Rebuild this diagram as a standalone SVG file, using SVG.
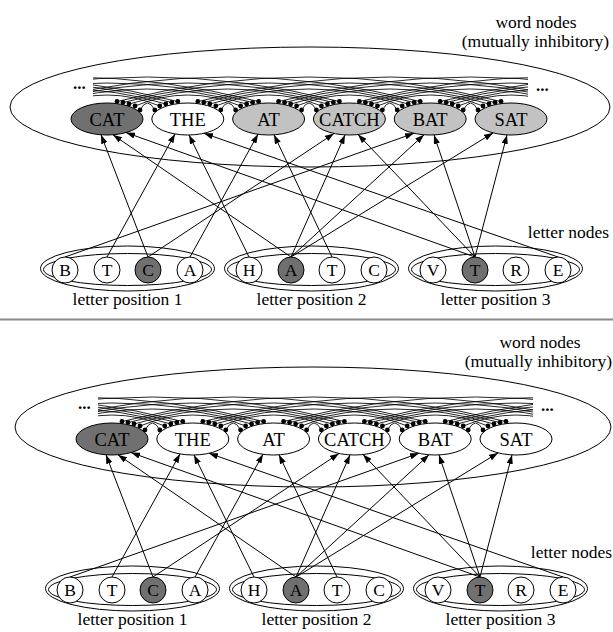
<svg xmlns="http://www.w3.org/2000/svg" xmlns:xlink="http://www.w3.org/1999/xlink" width="613" height="632" viewBox="0 0 613 632" font-family="'Liberation Serif', 'Times New Roman', serif">
<style>
text { font-family: "Liberation Serif", "Times New Roman", serif; fill:#000; }
.lbl { font-size:17.5px; }
.wt { font-size:18.5px; text-anchor:middle; }
.lt { font-size:17.5px; text-anchor:middle; }
.dots { font-size:17px; font-weight:bold; }
.node { stroke:#000; stroke-width:1; }
.dark { fill:#707070; }
.light { fill:#c2c2c2; }
.white { fill:#fff; }
.grp { fill:none; stroke:#000; stroke-width:1; }
.big { fill:none; stroke:#000; stroke-width:1; }
</style>
<defs>
<marker id="ah" viewBox="0 0 10 7" refX="10" refY="3.5" markerWidth="9" markerHeight="6.3" markerUnits="userSpaceOnUse" orient="auto">
<path d="M0,0 L10,3.5 L0,7 z" fill="#000" stroke="none"/>
</marker>
<clipPath id="clipInh" clipPathUnits="userSpaceOnUse"><rect x="93" y="60" width="435" height="60"/></clipPath>
<g id="inhib">
<g fill="none" stroke="#000" stroke-width="0.85" clip-path="url(#clipInh)">
<path d="M140 110 Q147.4 96 154.8 110"/>
<path d="M220.8 110 Q228.2 96 235.6 110"/>
<path d="M301.6 110 Q309 96 316.4 110"/>
<path d="M382.4 110 Q389.8 96 397.2 110"/>
<path d="M463.2 110 Q470.6 96 478 110"/>
<path d="M135 106 Q187.8 84 240.6 106"/>
<path d="M215.8 106 Q268.6 84 321.4 106"/>
<path d="M296.6 106 Q349.4 84 402.2 106"/>
<path d="M377.4 106 Q430.2 84 483 106"/>
<path d="M54.2 106 Q107 84 159.8 106"/>
<path d="M458.2 106 Q511 84 563.8 106"/>
<path d="M129 104 Q228.2 74 327.4 104"/>
<path d="M209.8 104 Q309 74 408.2 104"/>
<path d="M290.6 104 Q389.8 74 489 104"/>
<path d="M-32.6 104 Q66.6 74 165.8 104"/>
<path d="M48.2 104 Q147.4 74 246.6 104"/>
<path d="M371.4 104 Q470.6 74 569.8 104"/>
<path d="M452.2 104 Q551.4 74 650.6 104"/>
<path d="M123 102.5 Q268.6 63.5 414.2 102.5"/>
<path d="M203.8 102.5 Q349.4 63.5 495 102.5"/>
<path d="M-119.4 102.5 Q26.2 63.5 171.8 102.5"/>
<path d="M-38.6 102.5 Q107 63.5 252.6 102.5"/>
<path d="M42.2 102.5 Q187.8 63.5 333.4 102.5"/>
<path d="M284.6 102.5 Q430.2 63.5 575.8 102.5"/>
<path d="M365.4 102.5 Q511 63.5 656.6 102.5"/>
<path d="M446.2 102.5 Q591.8 63.5 737.4 102.5"/>
<path d="M117 101.5 Q309 52.5 501 101.5"/>
<path d="M-206.2 101.5 Q-14.2 52.5 177.8 101.5"/>
<path d="M-125.4 101.5 Q66.6 52.5 258.6 101.5"/>
<path d="M-44.6 101.5 Q147.4 52.5 339.4 101.5"/>
<path d="M36.2 101.5 Q228.2 52.5 420.2 101.5"/>
<path d="M197.8 101.5 Q389.8 52.5 581.8 101.5"/>
<path d="M278.6 101.5 Q470.6 52.5 662.6 101.5"/>
<path d="M359.4 101.5 Q551.4 52.5 743.4 101.5"/>
<path d="M440.2 101.5 Q632.2 52.5 824.2 101.5"/>
</g>
<g fill="#000">
<circle cx="140" cy="110" r="2.4"/><circle cx="135" cy="106" r="2.4"/><circle cx="129" cy="104" r="2.4"/><circle cx="123" cy="102.5" r="2.4"/><circle cx="117" cy="101.5" r="2.4"/>
<circle cx="220.8" cy="110" r="2.4"/><circle cx="215.8" cy="106" r="2.4"/><circle cx="209.8" cy="104" r="2.4"/><circle cx="203.8" cy="102.5" r="2.4"/><circle cx="197.8" cy="101.5" r="2.4"/>
<circle cx="301.6" cy="110" r="2.4"/><circle cx="296.6" cy="106" r="2.4"/><circle cx="290.6" cy="104" r="2.4"/><circle cx="284.6" cy="102.5" r="2.4"/><circle cx="278.6" cy="101.5" r="2.4"/>
<circle cx="382.4" cy="110" r="2.4"/><circle cx="377.4" cy="106" r="2.4"/><circle cx="371.4" cy="104" r="2.4"/><circle cx="365.4" cy="102.5" r="2.4"/><circle cx="359.4" cy="101.5" r="2.4"/>
<circle cx="463.2" cy="110" r="2.4"/><circle cx="458.2" cy="106" r="2.4"/><circle cx="452.2" cy="104" r="2.4"/><circle cx="446.2" cy="102.5" r="2.4"/><circle cx="440.2" cy="101.5" r="2.4"/>
<circle cx="154.8" cy="110" r="2.4"/><circle cx="159.8" cy="106" r="2.4"/><circle cx="165.8" cy="104" r="2.4"/><circle cx="171.8" cy="102.5" r="2.4"/><circle cx="177.8" cy="101.5" r="2.4"/>
<circle cx="235.6" cy="110" r="2.4"/><circle cx="240.6" cy="106" r="2.4"/><circle cx="246.6" cy="104" r="2.4"/><circle cx="252.6" cy="102.5" r="2.4"/><circle cx="258.6" cy="101.5" r="2.4"/>
<circle cx="316.4" cy="110" r="2.4"/><circle cx="321.4" cy="106" r="2.4"/><circle cx="327.4" cy="104" r="2.4"/><circle cx="333.4" cy="102.5" r="2.4"/><circle cx="339.4" cy="101.5" r="2.4"/>
<circle cx="397.2" cy="110" r="2.4"/><circle cx="402.2" cy="106" r="2.4"/><circle cx="408.2" cy="104" r="2.4"/><circle cx="414.2" cy="102.5" r="2.4"/><circle cx="420.2" cy="101.5" r="2.4"/>
<circle cx="478" cy="110" r="2.4"/><circle cx="483" cy="106" r="2.4"/><circle cx="489" cy="104" r="2.4"/><circle cx="495" cy="102.5" r="2.4"/><circle cx="501" cy="101.5" r="2.4"/>
</g>
<text class="dots" x="73" y="89" font-size="17" font-weight="bold">...</text>
<text class="dots" x="536" y="91" font-size="17" font-weight="bold">...</text>
</g>
<g id="arrows" stroke="#000" stroke-width="1" marker-end="url(#ah)">
<line x1="148" y1="257" x2="101" y2="134.8"/>
<line x1="291" y1="257" x2="113" y2="134.8"/>
<line x1="475" y1="257" x2="126" y2="132.6"/>
<line x1="107" y1="257" x2="175" y2="133.9"/>
<line x1="249" y1="257" x2="189" y2="135"/>
<line x1="558" y1="257" x2="204" y2="133.3"/>
<line x1="190" y1="257" x2="258" y2="134.2"/>
<line x1="332" y1="257" x2="274" y2="134.8"/>
<line x1="148" y1="257" x2="334" y2="133.5"/>
<line x1="291" y1="257" x2="345" y2="134.9"/>
<line x1="475" y1="257" x2="358" y2="134.5"/>
<line x1="65" y1="257" x2="414" y2="133.3"/>
<line x1="291" y1="257" x2="424" y2="134.8"/>
<line x1="475" y1="257" x2="434" y2="134.9"/>
<line x1="291" y1="257" x2="493" y2="132.9"/>
<line x1="475" y1="257" x2="507" y2="134.9"/>
</g>
</defs>

<!-- ===== TOP PANEL ===== -->
<g id="top-panel">
<text class="lbl" x="536" y="28" text-anchor="middle">word nodes</text>
<text class="lbl" x="609" y="47" text-anchor="end">(mutually inhibitory)</text>
<ellipse id="top-word-layer" class="big" cx="310" cy="107" rx="300" ry="60"/>
<g id="top-inhibitory-connectors"><use xlink:href="#inhib" href="#inhib"/></g>
<g id="top-word-CAT"><ellipse class="node dark" cx="107" cy="119" rx="36" ry="16"/><text class="wt" x="107" y="125.5">CAT</text></g>
<g id="top-word-THE"><ellipse class="node white" cx="187.8" cy="119" rx="36" ry="16"/><text class="wt" x="187.8" y="125.5">THE</text></g>
<g id="top-word-AT"><ellipse class="node light" cx="268.6" cy="119" rx="36" ry="16"/><text class="wt" x="268.6" y="125.5">AT</text></g>
<g id="top-word-CATCH"><ellipse class="node light" cx="349.4" cy="119" rx="36" ry="16"/><text class="wt" x="349.4" y="125.5">CATCH</text></g>
<g id="top-word-BAT"><ellipse class="node light" cx="430.2" cy="119" rx="36" ry="16"/><text class="wt" x="430.2" y="125.5">BAT</text></g>
<g id="top-word-SAT"><ellipse class="node light" cx="511" cy="119" rx="36" ry="16"/><text class="wt" x="511" y="125.5">SAT</text></g>
<text class="lbl" x="609" y="238" text-anchor="end">letter nodes</text>
<g id="top-pos1"><ellipse class="grp" cx="127.5" cy="268.5" rx="87" ry="22.5"/><ellipse class="grp" cx="127.5" cy="269.5" rx="84" ry="16"/><text class="lbl" x="127.5" y="305" text-anchor="middle">letter position 1</text></g>
<g id="top-pos2"><ellipse class="grp" cx="311.5" cy="268.5" rx="87" ry="22.5"/><ellipse class="grp" cx="311.5" cy="269.5" rx="84" ry="16"/><text class="lbl" x="311.5" y="305" text-anchor="middle">letter position 2</text></g>
<g id="top-pos3"><ellipse class="grp" cx="495.5" cy="268.5" rx="87" ry="22.5"/><ellipse class="grp" cx="495.5" cy="269.5" rx="84" ry="16"/><text class="lbl" x="495.5" y="305" text-anchor="middle">letter position 3</text></g>
<g id="top-connectors"><use xlink:href="#arrows" href="#arrows"/></g>
<g id="top-L1-B"><circle class="node white" cx="65" cy="270" r="13"/><text class="lt" x="65" y="276">B</text></g>
<g id="top-L1-T"><circle class="node white" cx="107" cy="270" r="13"/><text class="lt" x="107" y="276">T</text></g>
<g id="top-L1-C"><circle class="node dark" cx="148" cy="270" r="13"/><text class="lt" x="148" y="276">C</text></g>
<g id="top-L1-A"><circle class="node white" cx="190" cy="270" r="13"/><text class="lt" x="190" y="276">A</text></g>
<g id="top-L2-H"><circle class="node white" cx="249" cy="270" r="13"/><text class="lt" x="249" y="276">H</text></g>
<g id="top-L2-A"><circle class="node dark" cx="291" cy="270" r="13"/><text class="lt" x="291" y="276">A</text></g>
<g id="top-L2-T"><circle class="node white" cx="332" cy="270" r="13"/><text class="lt" x="332" y="276">T</text></g>
<g id="top-L2-C"><circle class="node white" cx="374" cy="270" r="13"/><text class="lt" x="374" y="276">C</text></g>
<g id="top-L3-V"><circle class="node white" cx="433" cy="270" r="13"/><text class="lt" x="433" y="276">V</text></g>
<g id="top-L3-T"><circle class="node dark" cx="475" cy="270" r="13"/><text class="lt" x="475" y="276">T</text></g>
<g id="top-L3-R"><circle class="node white" cx="516" cy="270" r="13"/><text class="lt" x="516" y="276">R</text></g>
<g id="top-L3-E"><circle class="node white" cx="558" cy="270" r="13"/><text class="lt" x="558" y="276">E</text></g>
</g>

<line id="divider" x1="0" y1="319.5" x2="613" y2="319.5" stroke="#8a8a8a" stroke-width="2"/>

<!-- ===== BOTTOM PANEL ===== -->
<g id="bottom-panel">
<text class="lbl" x="540" y="348" text-anchor="middle">word nodes</text>
<text class="lbl" x="612" y="367" text-anchor="end">(mutually inhibitory)</text>
<ellipse id="bot-word-layer" class="big" cx="313" cy="427" rx="298" ry="60"/>
<text class="lbl" x="612" y="558" text-anchor="end">letter nodes</text>
<g transform="translate(5,320)">
<g id="bot-inhibitory-connectors"><use xlink:href="#inhib" href="#inhib"/></g>
<g id="bot-word-CAT"><ellipse class="node dark" cx="107" cy="119" rx="36" ry="16"/><text class="wt" x="107" y="125.5">CAT</text></g>
<g id="bot-word-THE"><ellipse class="node white" cx="187.8" cy="119" rx="36" ry="16"/><text class="wt" x="187.8" y="125.5">THE</text></g>
<g id="bot-word-AT"><ellipse class="node white" cx="268.6" cy="119" rx="36" ry="16"/><text class="wt" x="268.6" y="125.5">AT</text></g>
<g id="bot-word-CATCH"><ellipse class="node white" cx="349.4" cy="119" rx="36" ry="16"/><text class="wt" x="349.4" y="125.5">CATCH</text></g>
<g id="bot-word-BAT"><ellipse class="node white" cx="430.2" cy="119" rx="36" ry="16"/><text class="wt" x="430.2" y="125.5">BAT</text></g>
<g id="bot-word-SAT"><ellipse class="node white" cx="511" cy="119" rx="36" ry="16"/><text class="wt" x="511" y="125.5">SAT</text></g>
<g id="bot-pos1"><ellipse class="grp" cx="127.5" cy="268.5" rx="87" ry="22.5"/><ellipse class="grp" cx="127.5" cy="269.5" rx="84" ry="16"/><text class="lbl" x="127.5" y="305" text-anchor="middle">letter position 1</text></g>
<g id="bot-pos2"><ellipse class="grp" cx="311.5" cy="268.5" rx="87" ry="22.5"/><ellipse class="grp" cx="311.5" cy="269.5" rx="84" ry="16"/><text class="lbl" x="311.5" y="305" text-anchor="middle">letter position 2</text></g>
<g id="bot-pos3"><ellipse class="grp" cx="495.5" cy="268.5" rx="87" ry="22.5"/><ellipse class="grp" cx="495.5" cy="269.5" rx="84" ry="16"/><text class="lbl" x="495.5" y="305" text-anchor="middle">letter position 3</text></g>
<g id="bot-connectors"><use xlink:href="#arrows" href="#arrows"/></g>
<g id="bot-L1-B"><circle class="node white" cx="65" cy="270" r="13"/><text class="lt" x="65" y="276">B</text></g>
<g id="bot-L1-T"><circle class="node white" cx="107" cy="270" r="13"/><text class="lt" x="107" y="276">T</text></g>
<g id="bot-L1-C"><circle class="node dark" cx="148" cy="270" r="13"/><text class="lt" x="148" y="276">C</text></g>
<g id="bot-L1-A"><circle class="node white" cx="190" cy="270" r="13"/><text class="lt" x="190" y="276">A</text></g>
<g id="bot-L2-H"><circle class="node white" cx="249" cy="270" r="13"/><text class="lt" x="249" y="276">H</text></g>
<g id="bot-L2-A"><circle class="node dark" cx="291" cy="270" r="13"/><text class="lt" x="291" y="276">A</text></g>
<g id="bot-L2-T"><circle class="node white" cx="332" cy="270" r="13"/><text class="lt" x="332" y="276">T</text></g>
<g id="bot-L2-C"><circle class="node white" cx="374" cy="270" r="13"/><text class="lt" x="374" y="276">C</text></g>
<g id="bot-L3-V"><circle class="node white" cx="433" cy="270" r="13"/><text class="lt" x="433" y="276">V</text></g>
<g id="bot-L3-T"><circle class="node dark" cx="475" cy="270" r="13"/><text class="lt" x="475" y="276">T</text></g>
<g id="bot-L3-R"><circle class="node white" cx="516" cy="270" r="13"/><text class="lt" x="516" y="276">R</text></g>
<g id="bot-L3-E"><circle class="node white" cx="558" cy="270" r="13"/><text class="lt" x="558" y="276">E</text></g>
</g>
</g>
</svg>
